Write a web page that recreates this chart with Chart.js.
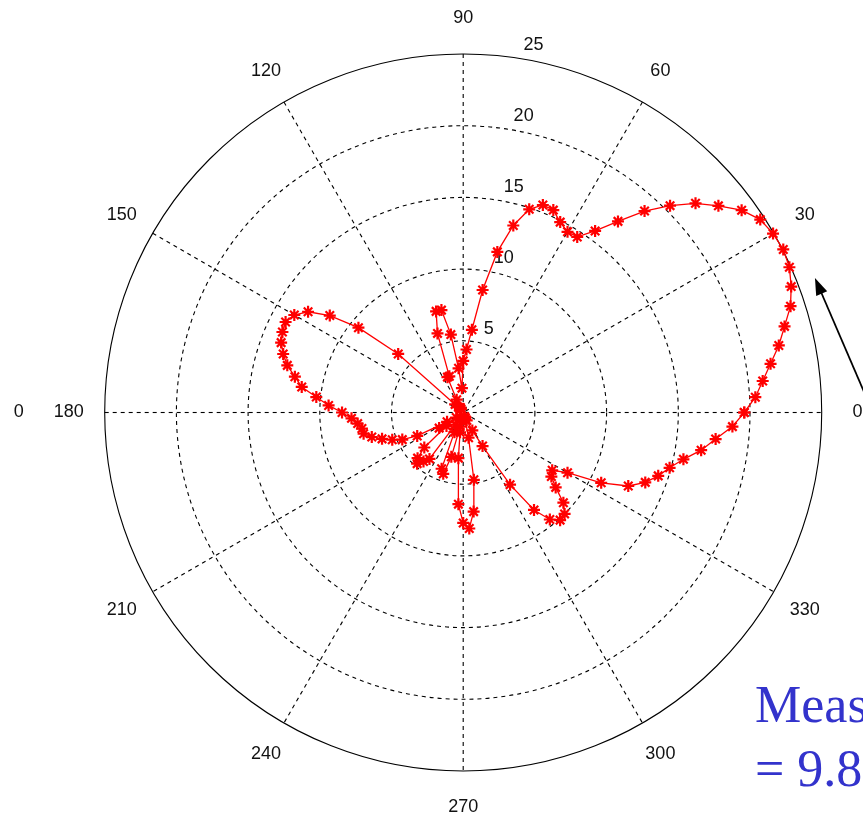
<!DOCTYPE html>
<html>
<head>
<meta charset="utf-8">
<script src="https://cdn.jsdelivr.net/npm/chart.js@4.4.0/dist/chart.umd.min.js"></script>
<style>
  html, body { margin: 0; padding: 0; background: #fff; }
  #wrap { width: 863px; height: 828px; overflow: hidden; }
</style>
</head>
<body>
<div id="wrap"><canvas id="polarPlot" width="863" height="828"></canvas></div>
<script>
// measured pattern, one sample every 3 degrees, 0..360 (last repeats first)
var angles = [
  0, 3, 6, 9, 12, 15, 18, 21, 24, 27, 30, 33, 36, 39, 42, 45, 48, 51, 54, 57,
  60, 63, 66, 69, 72, 75, 78, 81, 84, 87, 90, 93, 96, 99, 102, 105, 108, 111, 114, 117,
  120, 123, 126, 129, 132, 135, 138, 141, 144, 147, 150, 153, 156, 159, 162, 165, 168, 171, 174, 177,
  180, 183, 186, 189, 192, 195, 198, 201, 204, 207, 210, 213, 216, 219, 222, 225, 228, 231, 234, 237,
  240, 243, 246, 249, 252, 255, 258, 261, 264, 267, 270, 273, 276, 279, 282, 285, 288, 291, 294, 297,
  300, 303, 306, 309, 312, 315, 318, 321, 324, 327, 330, 333, 336, 339, 342, 345, 348, 351, 354, 357,
  360
];
var radii = [
  19.6, 20.4, 21.0, 21.7, 22.5, 23.2, 24.0, 24.5, 24.9, 25.05, 24.95, 24.7, 24.0, 22.9, 21.8, 20.4, 18.9, 17.15, 15.65, 14.6,
  14.55, 14.9, 15.45, 15.5, 14.9, 13.5, 11.45, 8.65, 5.8, 4.4, 3.6, 1.7, 3.1, 5.5, 7.3, 7.3, 5.8, 2.7, 2.7, 1.0,
  0.4, 0.3, 0.4, 0.3, 0.5, 0.8, 6.1, 9.4, 11.5, 12.9, 13.6, 13.9, 13.8, 13.6, 13.2, 12.7, 12.0, 11.4, 10.3, 9.4,
  8.45, 7.8, 7.4, 7.15, 7.1, 6.6, 5.95, 5.3, 4.65, 3.6, 1.3, 2.0, 0.6, 1.5, 3.65, 4.5, 4.8, 4.4, 4.0, 1.0,
  0.4, 0.5, 1.5, 4.2, 4.5, 3.2, 1.0, 1.4, 3.2, 6.4, 7.7, 8.1, 6.95, 4.75, 1.8, 0.5, 0.3, 0.4, 0.6, 1.4,
  2.7, 6.0, 8.4, 9.6, 10.1, 10.0, 9.4, 8.3, 7.6, 7.4, 8.4, 10.8, 12.6, 13.6, 14.3, 14.9, 15.7, 16.8, 17.7, 18.8,
  19.6
];

var ringValues = [5, 10, 15, 20];
var ringLabels = ["5", "10", "15", "20", "25"];
var rMax = 25;
var spokeAngles = [30, 60, 90, 120, 150, 180];
var angleTicks = [0, 30, 60, 90, 120, 150, 180, 210, 240, 270, 300, 330];
var angleLabels = ["0", "30", "60", "90", "120", "150", "180", "210", "240", "270", "300", "330"];
var noteLines = ["Meas", "= 9.8"];

function toXY(deg, r) {
  var t = deg * Math.PI / 180;
  return { x: r * Math.cos(t), y: r * Math.sin(t) };
}

var points = angles.map(function (a, i) { return toXY(a, radii[i]); });

// page placement of the plot: centre pixel and pixels per unit
var cxPix = 463.2, cyPix = 412.5, unitPix = 14.34;

var polarGrid = {
  id: 'polarGrid',
  beforeDatasetsDraw: function (chart) {
    var ctx = chart.ctx, xs = chart.scales.x, ys = chart.scales.y;
    var px = function (p) { return [xs.getPixelForValue(p.x), ys.getPixelForValue(p.y)]; };
    var c = px({ x: 0, y: 0 });
    var unit = xs.getPixelForValue(1) - c[0];
    ctx.save();
    ctx.strokeStyle = '#000';
    ctx.lineWidth = 1.1;
    ctx.setLineDash([4, 4]);
    ringValues.forEach(function (r) {
      ctx.beginPath();
      ctx.arc(c[0], c[1], r * unit, 0, Math.PI * 2);
      ctx.stroke();
    });
    spokeAngles.forEach(function (a) {
      var p1 = px(toXY(a, rMax)), p2 = px(toXY(a + 180, rMax));
      ctx.beginPath();
      ctx.moveTo(p1[0], p1[1]);
      ctx.lineTo(p2[0], p2[1]);
      ctx.stroke();
    });
    ctx.setLineDash([]);
    ctx.beginPath();
    ctx.arc(c[0], c[1], rMax * unit, 0, Math.PI * 2);
    ctx.stroke();

    ctx.fillStyle = '#111';
    ctx.font = '18px "Liberation Sans", Arial, sans-serif';
    ctx.textAlign = 'center';
    ctx.textBaseline = 'middle';
    angleTicks.forEach(function (a, i) {
      var p = px(toXY(a, rMax * 1.1));
      ctx.fillText(angleLabels[i], p[0], p[1]);
    });
    // stray label on the left of the slide
    var s = px(toXY(180, 31.0));
    ctx.fillText("0", s[0], s[1]);

    ctx.textAlign = 'left';
    ctx.textBaseline = 'bottom';
    ringLabels.forEach(function (lab, i) {
      var r = (i + 1) * 5 + 0.25;
      var p = px(toXY(82, r));
      ctx.fillText("  " + lab, p[0], p[1]);
    });
    ctx.restore();
  },
  afterDraw: function (chart) {
    var ctx = chart.ctx, xs = chart.scales.x, ys = chart.scales.y;
    var tip = [xs.getPixelForValue(24.53), ys.getPixelForValue(9.38)];
    var tail = [xs.getPixelForValue(28.4), ys.getPixelForValue(0.4)];
    var ang = Math.atan2(tip[1] - tail[1], tip[0] - tail[0]);
    ctx.save();
    ctx.strokeStyle = '#000';
    ctx.fillStyle = '#000';
    ctx.lineWidth = 1.8;
    ctx.beginPath();
    ctx.moveTo(tail[0], tail[1]);
    ctx.lineTo(tip[0] - 12 * Math.cos(ang), tip[1] - 12 * Math.sin(ang));
    ctx.stroke();
    ctx.beginPath();
    ctx.moveTo(tip[0], tip[1]);
    ctx.lineTo(tip[0] - 17 * Math.cos(ang) + 6 * Math.sin(ang), tip[1] - 17 * Math.sin(ang) - 6 * Math.cos(ang));
    ctx.lineTo(tip[0] - 17 * Math.cos(ang) - 6 * Math.sin(ang), tip[1] - 17 * Math.sin(ang) + 6 * Math.cos(ang));
    ctx.closePath();
    ctx.fill();

    ctx.fillStyle = '#3333cc';
    ctx.font = '52px "Liberation Serif", "Times New Roman", serif';
    ctx.textAlign = 'left';
    ctx.textBaseline = 'alphabetic';
    ctx.fillText(noteLines[0], 755, 722);
    ctx.fillText(noteLines[1], 755, 786);
    ctx.restore();
  }
};

var W = 863, H = 828;
var ctx = document.getElementById('polarPlot').getContext('2d');
window.polarChart = new Chart(ctx, {
  type: 'scatter',
  data: {
    datasets: [{
      label: 'pattern',
      data: points,
      showLine: true,
      borderColor: 'rgb(255, 0, 0)',
      borderWidth: 1.3,
      tension: 0,
      pointStyle: 'star',
      pointRadius: 6,
      pointBorderWidth: 2.2,
      pointBorderColor: 'rgb(255, 0, 0)',
      pointBackgroundColor: 'rgb(255, 0, 0)',
      clip: false
    }]
  },
  options: {
    responsive: false,
    animation: false,
    layout: { padding: 0, autoPadding: false },
    plugins: { legend: { display: false }, tooltip: { enabled: false } },
    scales: {
      x: { type: 'linear', display: false, min: -cxPix / unitPix, max: (W - cxPix) / unitPix },
      y: { type: 'linear', display: false, min: -(H - cyPix) / unitPix, max: cyPix / unitPix }
    }
  },
  plugins: [polarGrid]
});
</script>
</body>
</html>
